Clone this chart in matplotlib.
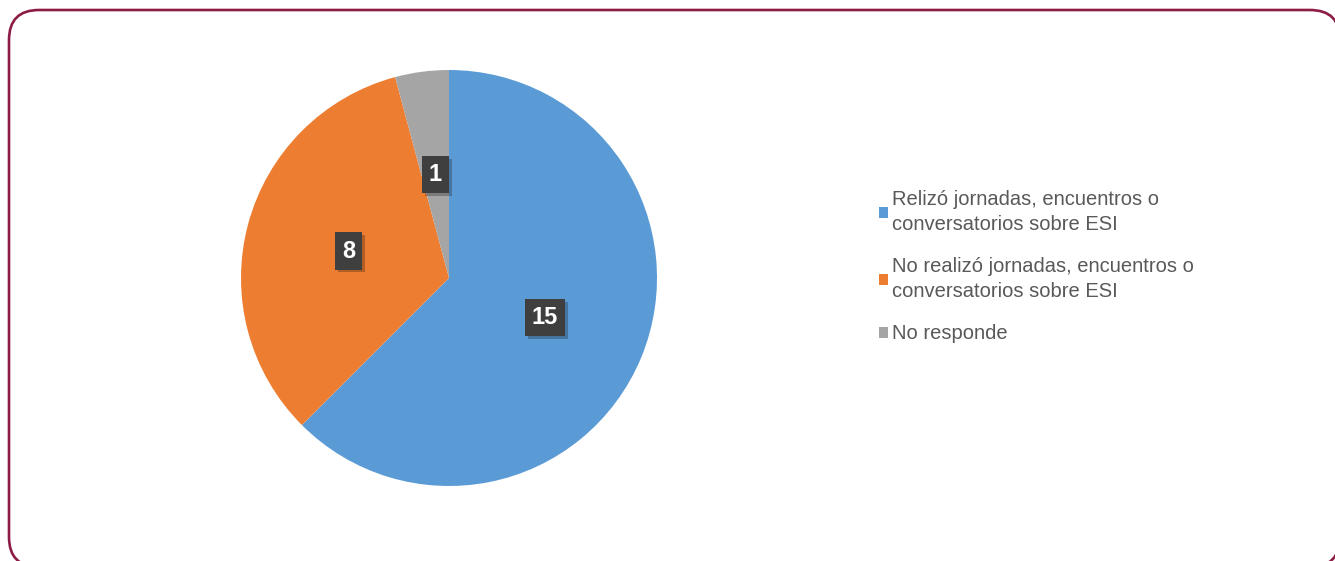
import matplotlib
matplotlib.use("Agg")
import matplotlib.pyplot as plt
from matplotlib.patches import FancyBboxPatch
import matplotlib.patheffects as pe

# === Data ===
labels = [
    "Relizó jornadas, encuentros o\nconversatorios sobre ESI",
    "No realizó jornadas, encuentros o\nconversatorios sobre ESI",
    "No responde",
]
values = [15, 8, 1]
colors = ["#5B9BD5", "#ED7D31", "#A5A5A5"]

plt.rcParams['font.family'] = ['Liberation Sans', 'DejaVu Sans']

W, H = 1335, 561
fig = plt.figure(figsize=(W / 100, H / 100), dpi=100)
fig.patch.set_facecolor('white')

# overlay in pixel units for the rounded maroon frame (runs off right/bottom)
bg = fig.add_axes([0, 0, 1, 1], zorder=0)
bg.set_xlim(0, W)
bg.set_ylim(0, H)
bg.axis('off')
frame = FancyBboxPatch((9, H - 567), 1340 - 9, 567 - 10,
                       boxstyle="round,pad=0,rounding_size=30")
for poly in frame.get_path().to_polygons(closed_only=False):
    bg.plot(poly[:, 0], poly[:, 1], color='#8C1C45', linewidth=1.9,
            solid_capstyle='round', clip_on=False)

# pie axes placed in pixels
cx, cy, r = 449, H - 278, 208
ax = fig.add_axes([(cx - r) / W, (cy - r) / H, 2 * r / W, 2 * r / H], zorder=1)
wedges, texts, autotexts = ax.pie(
    values, colors=colors, startangle=90, counterclock=False,
    autopct=lambda p: f"{round(p * sum(values) / 100):d}", pctdistance=0.5,
    wedgeprops=dict(linewidth=0),
    textprops=dict(color='white', fontsize=17, fontweight='bold'))
ax.set_xlim(-1, 1)
ax.set_ylim(-1, 1)

for t in autotexts:
    t.set_bbox(dict(boxstyle='square,pad=0.3', facecolor='#3F3F3F',
                    edgecolor='none'))
    t.get_bbox_patch().set_path_effects(
        [pe.SimplePatchShadow(offset=(2, -2), shadow_rgbFace='#000000', alpha=0.25),
         pe.Normal()])

leg = fig.legend(wedges, labels, loc='upper left',
                 bbox_to_anchor=(879 / W, (H - 190) / H),
                 frameon=False, fontsize=14.5, handlelength=0.45,
                 handleheight=0.45, handletextpad=0.2, labelspacing=1.15,
                 borderaxespad=0, borderpad=0)
for t in leg.get_texts():
    t.set_color('#595959')
    t.set_linespacing(1.4)

fig.savefig("out.png", dpi=100)
